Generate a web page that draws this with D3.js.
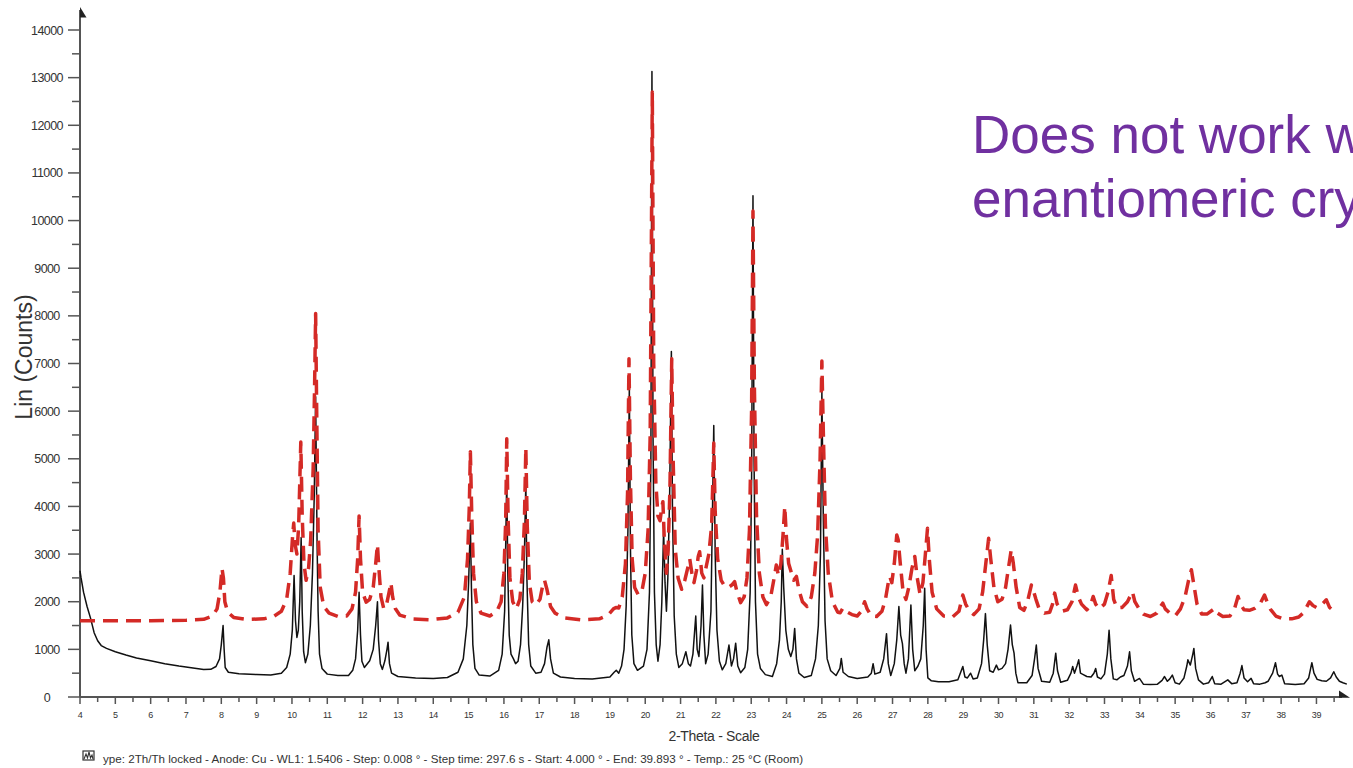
<!DOCTYPE html>
<html>
<head>
<meta charset="utf-8">
<script src="https://cdn.jsdelivr.net/npm/d3@7"></script>
<style>
  html, body { margin: 0; padding: 0; background: #ffffff; }
  svg { display: block; }
</style>
</head>
<body>
<svg id="chart" width="1353" height="768"></svg>
<script>
// ---------------- DATA ----------------
const yTickValues = [0,1000,2000,3000,4000,5000,6000,7000,8000,9000,10000,11000,12000,13000,14000];
const xTickValues = [4,5,6,7,8,9,10,11,12,13,14,15,16,17,18,19,20,21,22,23,24,25,26,27,28,29,30,31,32,33,34,35,36,37,38,39];

// measured pattern: [2-theta, counts]
const measuredPattern = [
[4.00,2650],[4.03,2500],[4.10,2200],[4.20,1900],[4.30,1650],[4.40,1350],[4.50,1180],[4.60,1080],[4.75,1020],[5.0,950],
[5.3,880],[5.6,820],[6.0,760],[6.4,700],[6.8,650],[7.2,610],[7.5,575],[7.7,580],[7.85,640],[7.95,800],
[8.00,1100],[8.05,1500],[8.08,1000],[8.11,620],[8.2,520],[8.5,490],[9.0,470],[9.4,460],[9.7,500],[9.85,620],
[9.95,900],[10.01,1400],[10.06,2550],[10.10,1600],[10.14,1250],[10.18,1400],[10.22,2000],[10.26,3350],[10.29,1800],[10.33,950],
[10.38,720],[10.45,900],[10.52,1500],[10.58,2600],[10.63,4200],[10.67,6300],[10.71,3300],[10.74,1800],[10.78,900],[10.85,600],
[11.0,480],[11.3,450],[11.6,450],[11.72,560],[11.8,800],[11.86,1400],[11.9,2200],[11.94,1300],[11.98,750],[12.05,620],
[12.2,760],[12.3,1000],[12.37,1500],[12.42,2000],[12.45,1200],[12.5,700],[12.56,580],[12.63,760],[12.69,1000],[12.72,1150],
[12.76,700],[12.82,500],[13.0,430],[13.5,400],[14.0,390],[14.4,410],[14.7,520],[14.85,800],[14.95,1500],[15.0,2400],
[15.05,3650],[15.08,2300],[15.12,1100],[15.18,600],[15.3,460],[15.6,440],[15.85,560],[15.95,900],[16.02,1800],[16.08,4600],
[16.11,2600],[16.15,1300],[16.2,900],[16.27,800],[16.33,700],[16.4,750],[16.47,1100],[16.53,1900],[16.58,3000],[16.62,4500],
[16.65,2500],[16.7,1100],[16.76,650],[16.9,500],[17.05,520],[17.15,700],[17.22,1050],[17.27,1200],[17.32,800],[17.4,500],
[17.6,420],[18.0,390],[18.5,380],[19.0,420],[19.12,520],[19.18,560],[19.25,500],[19.33,650],[19.4,1000],[19.46,1900],
[19.51,3500],[19.55,6500],[19.58,3200],[19.62,1300],[19.68,700],[19.78,560],[19.95,650],[20.05,1000],[20.12,2200],[20.16,5000],
[20.19,13130],[20.22,5500],[20.26,2200],[20.31,1100],[20.36,750],[20.42,1100],[20.47,2000],[20.52,3500],[20.56,2400],[20.6,1800],
[20.64,2500],[20.69,4200],[20.74,7250],[20.77,4000],[20.82,1700],[20.88,900],[20.95,620],[21.05,700],[21.15,950],[21.22,700],
[21.28,650],[21.35,900],[21.43,1700],[21.47,1000],[21.52,850],[21.58,1500],[21.62,2350],[21.66,1300],[21.71,700],[21.78,900],
[21.86,1800],[21.94,5700],[21.98,3000],[22.03,1400],[22.1,750],[22.18,570],[22.28,700],[22.37,1090],[22.44,650],[22.5,800],
[22.56,1130],[22.62,650],[22.7,510],[22.82,620],[22.9,1000],[22.97,2200],[23.01,4500],[23.05,10520],[23.08,5000],[23.12,2000],
[23.18,900],[23.26,600],[23.4,470],[23.6,430],[23.72,700],[23.8,1200],[23.85,2000],[23.88,3100],[23.92,2300],[23.98,1400],
[24.05,1000],[24.12,850],[24.18,1000],[24.23,1440],[24.28,800],[24.35,500],[24.5,410],[24.7,450],[24.82,800],[24.9,1500],
[24.96,3000],[25.0,6400],[25.04,3800],[25.09,1600],[25.15,800],[25.25,550],[25.4,450],[25.51,600],[25.55,810],[25.6,520],
[25.75,430],[26.0,390],[26.3,420],[26.4,500],[26.45,700],[26.5,480],[26.65,520],[26.75,800],[26.83,1330],[26.88,700],
[26.95,450],[27.05,700],[27.12,1200],[27.18,1900],[27.23,1300],[27.28,1120],[27.33,700],[27.38,500],[27.45,800],[27.52,1930],
[27.57,1000],[27.63,550],[27.72,650],[27.8,800],[27.87,1500],[27.91,2280],[27.95,1000],[28.0,400],[28.1,340],[28.3,320],
[28.6,320],[28.85,360],[28.99,640],[29.05,420],[29.12,400],[29.21,500],[29.28,380],[29.4,400],[29.52,700],[29.58,1200],
[29.63,1750],[29.68,1100],[29.75,550],[29.85,520],[29.94,670],[30.0,570],[30.1,600],[30.2,700],[30.27,1000],[30.34,1510],
[30.39,1100],[30.44,920],[30.49,500],[30.55,300],[30.8,300],[30.95,450],[31.02,800],[31.07,1090],[31.12,600],[31.22,330],
[31.45,310],[31.55,500],[31.62,920],[31.67,550],[31.76,310],[31.95,350],[32.05,500],[32.1,640],[32.15,500],[32.22,650],
[32.27,780],[32.32,500],[32.4,470],[32.5,430],[32.62,420],[32.7,500],[32.75,600],[32.8,420],[32.9,380],[33.0,480],
[33.08,900],[33.13,1400],[33.18,800],[33.25,380],[33.35,360],[33.45,420],[33.55,450],[33.65,650],[33.71,950],[33.76,550],
[33.85,330],[33.99,390],[34.1,270],[34.3,260],[34.5,270],[34.63,350],[34.7,430],[34.78,330],[34.85,380],[34.92,460],
[35.0,300],[35.12,270],[35.25,400],[35.33,650],[35.36,780],[35.43,670],[35.5,900],[35.53,1020],[35.58,600],[35.66,360],
[35.8,270],[35.95,300],[36.05,430],[36.12,280],[36.3,270],[36.49,360],[36.6,280],[36.75,300],[36.84,500],[36.89,660],
[36.95,400],[37.05,320],[37.15,390],[37.22,280],[37.4,270],[37.55,300],[37.63,330],[37.76,500],[37.84,720],[37.9,480],
[37.95,430],[38.02,460],[38.1,280],[38.4,260],[38.65,280],[38.78,400],[38.87,720],[38.93,500],[39.02,370],[39.15,340],
[39.28,330],[39.4,400],[39.49,530],[39.56,420],[39.65,330],[39.75,300],[39.86,270]
];

// calculated pattern (offset above the measured one): [2-theta, counts]
const calculatedPattern = [
[4.0,1600],[5.0,1600],[6.0,1600],[7.0,1610],[7.5,1630],[7.75,1700],[7.88,1850],[7.96,2200],[8.02,2700],[8.06,2500],
[8.1,2000],[8.18,1780],[8.35,1670],[8.7,1630],[9.2,1640],[9.5,1700],[9.7,1800],[9.85,2050],[9.95,2600],[10.02,3400],
[10.05,3650],[10.09,3200],[10.14,3000],[10.19,3600],[10.25,5350],[10.29,3800],[10.34,2800],[10.4,2450],[10.47,2700],[10.53,3300],
[10.6,4800],[10.64,6500],[10.67,8050],[10.7,6000],[10.74,3500],[10.8,2300],[10.9,1900],[11.05,1760],[11.3,1690],[11.55,1700],
[11.7,1850],[11.8,2200],[11.86,2900],[11.9,3800],[11.94,2900],[12.0,2200],[12.1,1990],[12.2,2050],[12.3,2300],[12.37,2800],
[12.42,3200],[12.46,2700],[12.52,2100],[12.6,1850],[12.68,1950],[12.75,2200],[12.8,2400],[12.85,2100],[12.93,1850],[13.05,1720],
[13.4,1640],[13.9,1620],[14.4,1660],[14.7,1780],[14.88,2100],[14.97,2900],[15.02,4000],[15.05,5150],[15.09,3800],[15.14,2600],
[15.22,2000],[15.35,1760],[15.6,1700],[15.8,1800],[15.92,2000],[16.0,2600],[16.05,3700],[16.08,5420],[16.12,3700],[16.17,2500],
[16.25,2000],[16.35,1850],[16.45,2050],[16.52,2600],[16.58,3700],[16.62,5230],[16.66,3600],[16.72,2400],[16.8,2000],[16.9,1930],
[17.02,2050],[17.1,2350],[17.15,2450],[17.22,2250],[17.32,1900],[17.45,1760],[17.7,1660],[18.2,1620],[18.7,1640],[18.95,1720],
[19.1,1850],[19.17,1880],[19.25,1870],[19.35,2100],[19.44,2800],[19.5,4300],[19.54,7100],[19.58,4600],[19.63,2900],[19.7,2300],
[19.8,2150],[19.9,2200],[20.0,2600],[20.08,3500],[20.14,5500],[20.2,12700],[20.24,7000],[20.3,4500],[20.36,3800],[20.42,3700],
[20.47,4000],[20.5,4100],[20.54,3300],[20.6,2600],[20.65,3100],[20.7,4400],[20.75,7100],[20.79,5000],[20.85,3100],[20.93,2500],
[21.03,2260],[21.12,2450],[21.2,2700],[21.26,2900],[21.32,2600],[21.38,2400],[21.45,2650],[21.5,2950],[21.54,3050],[21.6,2600],
[21.66,2500],[21.73,2750],[21.8,3000],[21.88,3600],[21.94,5330],[21.98,3900],[22.05,2900],[22.15,2450],[22.25,2320],[22.35,2300],
[22.45,2350],[22.53,2420],[22.6,2200],[22.7,1980],[22.8,2100],[22.88,2500],[22.95,3500],[23.01,6000],[23.05,10200],[23.09,6500],
[23.15,3800],[23.23,2600],[23.33,2100],[23.43,1940],[23.55,2100],[23.65,2500],[23.71,2770],[23.77,2550],[23.84,2800],[23.9,3400],
[23.95,4000],[24.0,3300],[24.06,2800],[24.14,2600],[24.2,2450],[24.28,2530],[24.35,2250],[24.45,2000],[24.58,1900],[24.7,2100],
[24.8,2600],[24.88,3400],[24.95,5000],[25.0,7050],[25.04,5600],[25.1,3600],[25.18,2600],[25.3,2000],[25.45,1780],[25.52,1770],
[25.6,1870],[25.68,1800],[25.85,1730],[26.0,1700],[26.12,1800],[26.21,2000],[26.28,1850],[26.4,1700],[26.55,1690],[26.7,1800],
[26.8,2050],[26.88,2400],[26.92,2530],[26.98,2400],[27.05,2800],[27.12,3400],[27.16,3300],[27.22,2800],[27.3,2200],[27.38,2050],
[27.46,2300],[27.55,2700],[27.63,2950],[27.7,2500],[27.78,2150],[27.86,2400],[27.93,3000],[27.99,3540],[28.04,2900],[28.12,2200],
[28.25,1850],[28.45,1700],[28.7,1680],[28.88,1800],[28.99,2140],[29.07,1950],[29.18,1800],[29.3,1730],[29.45,1850],[29.55,2200],
[29.64,2800],[29.72,3330],[29.78,2900],[29.87,2300],[29.98,2000],[30.1,2050],[30.2,2300],[30.28,2700],[30.36,3090],[30.42,2800],
[30.5,2300],[30.6,1880],[30.72,1820],[30.82,2000],[30.93,2350],[31.0,2200],[31.06,2050],[31.15,1850],[31.3,1760],[31.45,1780],
[31.53,1950],[31.59,2180],[31.66,1950],[31.8,1800],[31.95,1830],[32.08,2000],[32.18,2350],[32.26,2100],[32.35,1950],[32.5,1830],
[32.6,1920],[32.68,2110],[32.75,1950],[32.85,1850],[33.0,1950],[33.1,2200],[33.19,2550],[33.26,2050],[33.35,1870],[33.5,1880],
[33.65,2000],[33.79,2210],[33.86,2000],[33.97,1860],[34.1,1740],[34.3,1690],[34.48,1760],[34.57,1880],[34.65,1970],[34.72,1850],
[34.85,1760],[35.0,1700],[35.15,1850],[35.28,2100],[35.38,2450],[35.46,2670],[35.52,2400],[35.62,1950],[35.75,1740],[35.9,1740],
[36.05,1820],[36.12,1860],[36.2,1760],[36.35,1690],[36.55,1700],[36.68,1850],[36.78,2110],[36.85,1950],[36.95,1830],[37.1,1820],
[37.25,1860],[37.4,1950],[37.53,2140],[37.6,2000],[37.7,1840],[37.85,1700],[38.05,1640],[38.3,1640],[38.5,1680],[38.65,1780],
[38.8,2000],[38.9,1920],[39.0,1880],[39.15,1940],[39.28,2040],[39.37,1880],[39.45,1830]
];

const yTitle = "Lin (Counts)";
const xTitle = "2-Theta - Scale";
const footerText = "ype: 2Th/Th locked - Anode: Cu - WL1: 1.5406 - Step: 0.008 ° - Step time: 297.6 s - Start: 4.000 ° - End: 39.893 ° - Temp.: 25 °C (Room)";
const noteLines = ["Does not work w", "enantiomeric cry"];

// ---------------- CHART ----------------
const svg = d3.select("#chart");
const x = d3.scaleLinear().domain([4, 39.893]).range([80, 1348]);
const y = d3.scaleLinear().domain([0, 14000]).range([697, 30]);
const axisColor = "#555";
const font = "Liberation Sans, Arial, sans-serif";

// y axis
svg.append("line").attr("x1", 80).attr("x2", 80).attr("y1", 10).attr("y2", 697)
  .attr("stroke", axisColor).attr("stroke-width", 2);
svg.append("path").attr("d", "M80,7 L86.5,17.5 L80,17.5 Z").attr("fill", "#222");
const yMinor = d3.range(500, 14000, 1000);
svg.selectAll(".ymin").data(yMinor).enter().append("line")
  .attr("x1", 72).attr("x2", 80).attr("y1", d => y(d)).attr("y2", d => y(d))
  .attr("stroke", axisColor).attr("stroke-width", 1.5);
svg.selectAll(".ymaj").data(yTickValues).enter().append("line")
  .attr("x1", 68).attr("x2", 80).attr("y1", d => y(d)).attr("y2", d => y(d))
  .attr("stroke", axisColor).attr("stroke-width", 1.5);
svg.selectAll(".ylab").data(yTickValues).enter().append("text")
  .attr("x", 47).attr("y", d => y(d) + 4.5)
  .attr("text-anchor", "middle")
  .attr("font-family", font)
  .attr("font-size", 12.5).attr("letter-spacing", -0.6).attr("fill", "#333")
  .text(d => d);

// x axis
svg.append("line").attr("x1", 80).attr("x2", 1342).attr("y1", 697).attr("y2", 697)
  .attr("stroke", axisColor).attr("stroke-width", 2);
svg.append("path").attr("d", "M1339,690.5 L1350,697.8 L1339,697.8 Z").attr("fill", "#222");
const xMinor = d3.range(4.5, 39.9, 1);
svg.selectAll(".xmin").data(xMinor).enter().append("line")
  .attr("x1", d => x(d)).attr("x2", d => x(d)).attr("y1", 697).attr("y2", 702)
  .attr("stroke", axisColor).attr("stroke-width", 1.5);
svg.selectAll(".xmaj").data(xTickValues).enter().append("line")
  .attr("x1", d => x(d)).attr("x2", d => x(d)).attr("y1", 697).attr("y2", 704)
  .attr("stroke", axisColor).attr("stroke-width", 1.5);
svg.selectAll(".xlab").data(xTickValues).enter().append("text")
  .attr("x", d => x(d)).attr("y", 718)
  .attr("text-anchor", "middle")
  .attr("font-family", font)
  .attr("font-size", 9).attr("letter-spacing", -0.4).attr("fill", "#333")
  .text(d => d);

// titles
svg.append("text")
  .attr("transform", "translate(32,357) rotate(-90)")
  .attr("text-anchor", "middle")
  .attr("font-family", font)
  .attr("font-size", 23).attr("fill", "#333")
  .text(yTitle);
svg.append("text")
  .attr("x", 714).attr("y", 741).attr("text-anchor", "middle")
  .attr("font-family", font)
  .attr("font-size", 14).attr("letter-spacing", -0.3).attr("fill", "#333")
  .text(xTitle);

// footer with icon
const icon = svg.append("g").attr("transform", "translate(83,751)");
icon.append("rect").attr("x", 0).attr("y", 0).attr("width", 11).attr("height", 9)
  .attr("fill", "none").attr("stroke", "#333").attr("stroke-width", 1.2);
icon.append("path").attr("d", "M1,8 L3,3 L4.5,7 L6,1 L7.5,7 L9,4 L10,8")
  .attr("fill", "none").attr("stroke", "#333").attr("stroke-width", 1.1);
svg.append("text")
  .attr("x", 103).attr("y", 763)
  .attr("font-family", font)
  .attr("font-size", 11.6).attr("textLength", 700).attr("lengthAdjust", "spacingAndGlyphs")
  .attr("fill", "#333")
  .text(footerText);

// series
const line = d3.line().x(d => x(d[0])).y(d => y(d[1])).curve(d3.curveLinear);

svg.append("path").datum(measuredPattern)
  .attr("d", line).attr("fill", "none")
  .attr("stroke", "#111").attr("stroke-width", 1.5).attr("stroke-linejoin", "round");

svg.append("path").datum(calculatedPattern)
  .attr("d", line).attr("fill", "none")
  .attr("stroke", "#d42a26").attr("stroke-width", 3.5)
  .attr("stroke-dasharray", "15,8").attr("stroke-linejoin", "round");

// note text
const note = svg.append("text")
  .attr("font-family", font)
  .attr("font-size", 53).attr("fill", "#7030a0");
note.selectAll("tspan").data(noteLines).enter().append("tspan")
  .attr("x", 972).attr("y", (d, i) => 153 + i * 64)
  .text(d => d);
</script>
</body>
</html>
